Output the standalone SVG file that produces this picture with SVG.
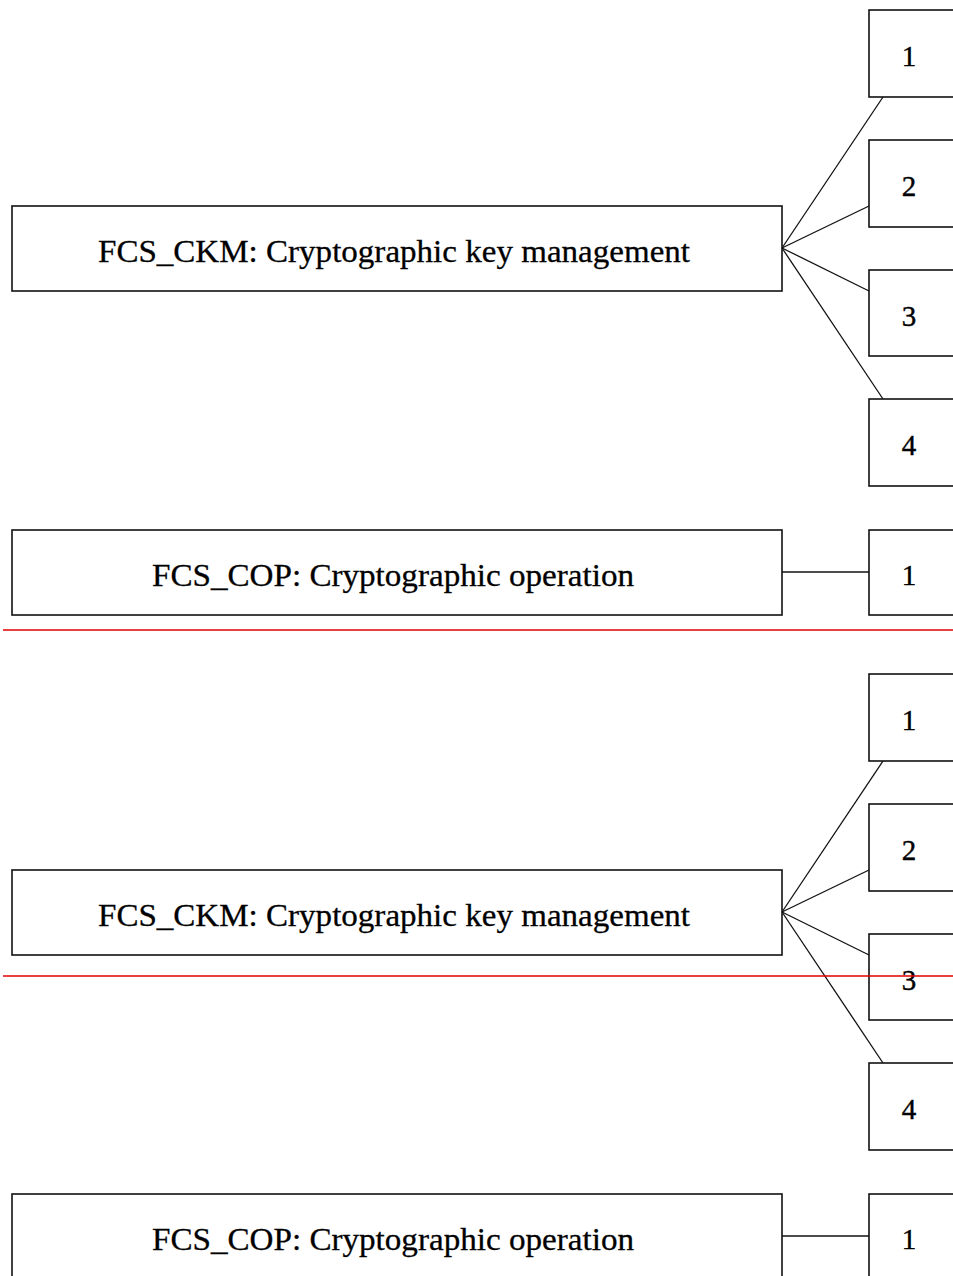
<svg xmlns="http://www.w3.org/2000/svg" width="953" height="1276" viewBox="0 0 953 1276">
<style>
.box{fill:#fff;stroke:#111;stroke-width:1.6}
.big{font-family:"Liberation Serif","Times New Roman",serif;font-size:32px;fill:#000;text-anchor:middle;stroke:#000;stroke-width:0.3}
.num{font-family:"Liberation Serif","Times New Roman",serif;font-size:29px;fill:#000;text-anchor:middle;stroke:#000;stroke-width:0.4}
.c{stroke:#111;stroke-width:1.3;fill:none}
.sep{stroke:#e00000;stroke-width:1.5}
</style>
<rect width="953" height="1276" fill="#fff"/>
<g id="connectors">
<line class="c" x1="782" y1="248" x2="883" y2="97"/>
<line class="c" x1="782" y1="248" x2="869" y2="206"/>
<line class="c" x1="782" y1="248" x2="869" y2="291"/>
<line class="c" x1="782" y1="248" x2="883" y2="399"/>
<line class="c" x1="782" y1="572" x2="869" y2="572"/>
<line class="c" x1="782" y1="912" x2="883" y2="761"/>
<line class="c" x1="782" y1="912" x2="869" y2="870"/>
<line class="c" x1="782" y1="912" x2="869" y2="955"/>
<line class="c" x1="782" y1="912" x2="883" y2="1063"/>
<line class="c" x1="782" y1="1236" x2="869" y2="1236"/>
</g>
<g id="ckm1"><rect class="box" x="12" y="206" width="770" height="85"/><text class="big" x="394" y="262" textLength="592" lengthAdjust="spacingAndGlyphs">FCS_CKM: Cryptographic key management</text></g>
<g id="ckm1-1"><rect class="box" x="869" y="10" width="90" height="87"/><text class="num" x="909" y="66">1</text></g>
<g id="ckm1-2"><rect class="box" x="869" y="140" width="90" height="87"/><text class="num" x="909" y="196">2</text></g>
<g id="ckm1-3"><rect class="box" x="869" y="270" width="90" height="86"/><text class="num" x="909" y="326">3</text></g>
<g id="ckm1-4"><rect class="box" x="869" y="399" width="90" height="87"/><text class="num" x="909" y="455">4</text></g>
<g id="cop1"><rect class="box" x="12" y="530" width="770" height="85"/><text class="big" x="393" y="586" textLength="482" lengthAdjust="spacingAndGlyphs">FCS_COP: Cryptographic operation</text></g>
<g id="cop1-1"><rect class="box" x="869" y="530" width="90" height="85"/><text class="num" x="909" y="585">1</text></g>
<line class="sep" x1="3" y1="630" x2="953" y2="630"/>
<g id="ckm2"><rect class="box" x="12" y="870" width="770" height="85"/><text class="big" x="394" y="926" textLength="592" lengthAdjust="spacingAndGlyphs">FCS_CKM: Cryptographic key management</text></g>
<g id="ckm2-1"><rect class="box" x="869" y="674" width="90" height="87"/><text class="num" x="909" y="730">1</text></g>
<g id="ckm2-2"><rect class="box" x="869" y="804" width="90" height="87"/><text class="num" x="909" y="860">2</text></g>
<g id="ckm2-3"><rect class="box" x="869" y="934" width="90" height="86"/><text class="num" x="909" y="990">3</text></g>
<g id="ckm2-4"><rect class="box" x="869" y="1063" width="90" height="87"/><text class="num" x="909" y="1119">4</text></g>
<g id="cop2"><rect class="box" x="12" y="1194" width="770" height="85"/><text class="big" x="393" y="1250" textLength="482" lengthAdjust="spacingAndGlyphs">FCS_COP: Cryptographic operation</text></g>
<g id="cop2-1"><rect class="box" x="869" y="1194" width="90" height="85"/><text class="num" x="909" y="1249">1</text></g>
<line class="sep" x1="3" y1="976" x2="953" y2="976"/>
</svg>
